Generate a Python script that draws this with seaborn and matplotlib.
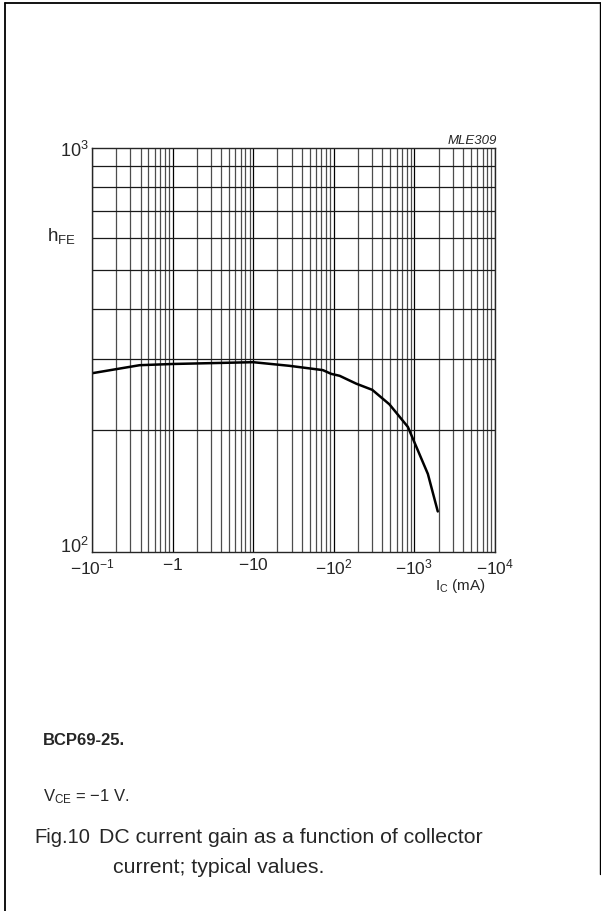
import numpy as np
import pandas as pd
import seaborn as sns
import matplotlib.pyplot as plt
from matplotlib.lines import Line2D
from matplotlib.ticker import FixedLocator, NullFormatter

# Typical DC current gain of the BCP69-25 at V_CE = -1 V
ic_ma = [0.1, 0.39, 1.0, 10.0, 28.0, 73.0, 93.0, 118.0, 190.0, 300.0, 490.0, 830.0, 1470.0, 1950.0]
hfe = [277, 290, 292, 295, 289, 282, 276, 273, 261, 252, 232, 204, 156, 126]

x_decades = [0.1, 1, 10, 100, 1000, 10000]
x_labels = [r"$-10^{-1}$", r"$-1$", r"$-10$", r"$-10^{2}$", r"$-10^{3}$", r"$-10^{4}$"]

sns.set_theme(style="white")
plt.rcParams["font.family"] = ["Liberation Sans", "DejaVu Sans"]
plt.rcParams["mathtext.fontset"] = "custom"
plt.rcParams["mathtext.rm"] = "Liberation Sans"
plt.rcParams["mathtext.it"] = "Liberation Sans:italic"
plt.rcParams["mathtext.bf"] = "Liberation Sans:bold"

W, H = 601, 912
fig = plt.figure(figsize=(W / 100, H / 100), dpi=100)
fig.patch.set_facecolor("white")


def fx(px):
    return px / W


def fy(py):
    return 1 - py / H


ax = fig.add_axes([fx(92), fy(553), fx(495) - fx(92), fy(149) - fy(553)])

df = pd.DataFrame({"ic": ic_ma, "hfe": hfe})
sns.lineplot(data=df, x="ic", y="hfe", ax=ax, color="black", linewidth=1.8,
             sort=False, estimator=None)

ax.set_xscale("log")
ax.set_yscale("log")
ax.set_xlim(0.1, 10000)
ax.set_ylim(100, 1000)

# decade and sub-decade grid
minor_x = [m * d for d in x_decades[:-1] for m in range(2, 10)]
ax.xaxis.set_major_locator(FixedLocator(x_decades))
ax.xaxis.set_minor_locator(FixedLocator(minor_x))
ax.xaxis.set_minor_formatter(NullFormatter())
ax.set_xticklabels([])
ax.yaxis.set_major_locator(FixedLocator([100, 1000]))
ax.yaxis.set_minor_locator(FixedLocator(list(range(200, 1000, 100))))
ax.yaxis.set_minor_formatter(NullFormatter())
ax.set_yticklabels([])
ax.tick_params(which="both", length=0)
ax.grid(which="major", axis="x", color="black", linewidth=0.9)
ax.grid(which="minor", axis="x", color="0.3", linewidth=0.9)
ax.grid(which="minor", axis="y", color="0.1", linewidth=0.9)
for s in ax.spines.values():
    s.set_color("0.15")
    s.set_linewidth(1.0)
ax.set_xlabel("")
ax.set_ylabel("")

# x tick labels, written as negative currents
for xv, lab in zip(x_decades, x_labels):
    ax.annotate(lab, xy=(xv, 100), xycoords="data", xytext=(0, -3),
                textcoords="offset points", ha="center", va="top", fontsize=12.5)

fig.text(fx(89), fy(151), r"$10^{3}$", ha="right", va="center", fontsize=13)
fig.text(fx(89), fy(547), r"$10^{2}$", ha="right", va="center", fontsize=13)
fig.text(fx(47), fy(236), r"h$_{\mathrm{FE}}$", ha="left", va="center", fontsize=13.5)
fig.text(fx(486), fy(586), r"I$_{\mathrm{C}}$ (mA)", ha="right", va="center", fontsize=11)
fig.text(fx(497), fy(141), "MLE309", ha="right", va="center", fontsize=9.5, style="italic")

# notes and caption
fig.text(fx(43), fy(741), "BCP69-25.", ha="left", va="center", fontsize=12, weight="bold")
fig.text(fx(43), fy(797), r"V$_{\mathrm{CE}}$ = −1 V.", ha="left", va="center", fontsize=12)
fig.text(fx(34), fy(838), "Fig.10", ha="left", va="center", fontsize=14.5)
fig.text(fx(99), fy(838), "DC current gain as a function of collector", ha="left", va="center", fontsize=15.3)
fig.text(fx(113), fy(868), "current; typical values.", ha="left", va="center", fontsize=15.3)

# page frame
fig.add_artist(Line2D([fx(5), fx(5)], [0, fy(4)], color="black", linewidth=1.3))
fig.add_artist(Line2D([fx(5), 1], [fy(4), fy(4)], color="black", linewidth=1.3))
fig.add_artist(Line2D([fx(600), fx(600)], [fy(4), fy(875)], color="black", linewidth=1.0))

fig.savefig("out.png", dpi=100, facecolor="white")
